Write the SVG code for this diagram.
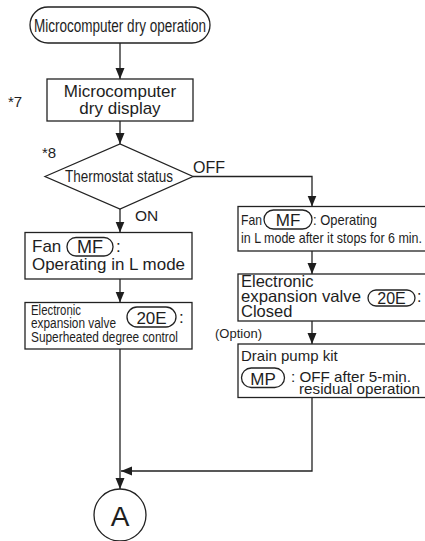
<svg xmlns="http://www.w3.org/2000/svg" width="425" height="541" viewBox="0 0 425 541">
<style>
.s{fill:#fff;stroke:#222;stroke-width:1.3}
.p{fill:none;stroke:#222;stroke-width:1.3}
.l{fill:none;stroke:#222;stroke-width:1.3}
text{font-family:"Liberation Sans",Arial,sans-serif;fill:#1e1e1e}
</style>
<defs>
<marker id="ah" markerUnits="userSpaceOnUse" markerWidth="12" markerHeight="12" viewBox="0 0 12 12" refX="11" refY="6" orient="auto">
<path d="M0,1.5 L11,6 L0,10.5 Z" fill="#1e1e1e"/>
</marker>
</defs>
<g id="connectors">
<line class="l" x1="120" y1="43" x2="120" y2="79" marker-end="url(#ah)"/>
<line class="l" x1="120" y1="121" x2="120" y2="144" marker-end="url(#ah)"/>
<line class="l" x1="120" y1="209" x2="120" y2="232.5" marker-end="url(#ah)"/>
<line class="l" x1="120" y1="279" x2="120" y2="302.5" marker-end="url(#ah)"/>
<line class="l" x1="120" y1="349" x2="120" y2="489" marker-end="url(#ah)"/>
<polyline class="l" points="193,176.5 312,176.5 312,206.5" marker-end="url(#ah)"/>
<line class="l" x1="312" y1="251" x2="312" y2="274" marker-end="url(#ah)"/>
<line class="l" x1="312" y1="321" x2="312" y2="344" marker-end="url(#ah)"/>
<polyline class="l" points="312,397.5 312,471 121,471" marker-end="url(#ah)"/>
<text x="193" y="173" font-size="16">OFF</text>
<text x="135" y="221" font-size="15.5">ON</text>
<text x="215" y="338" font-size="13">(Option)</text>
</g>
<g id="start">
<rect class="s" x="30" y="7" width="180" height="36" rx="18"/>
<text x="120" y="31.5" font-size="18" text-anchor="middle" textLength="172" lengthAdjust="spacingAndGlyphs">Microcomputer dry operation</text>
</g>
<g id="display">
<rect class="s" x="47" y="79" width="146" height="42"/>
<text x="120" y="97" font-size="17" text-anchor="middle">Microcomputer</text>
<text x="120" y="114" font-size="17" text-anchor="middle">dry display</text>
<text x="8" y="107" font-size="15">*7</text>
</g>
<g id="thermostat">
<polygon class="s" points="45,176.5 120,144 193,176.5 120,209"/>
<text x="119" y="182" font-size="16" text-anchor="middle" textLength="108" lengthAdjust="spacingAndGlyphs">Thermostat status</text>
<text x="42" y="158" font-size="15">*8</text>
</g>
<g id="fan-on">
<rect class="s" x="25" y="232.5" width="167" height="46.5"/>
<text x="32" y="252" font-size="17">Fan</text>
<rect class="p" x="67" y="237.5" width="46" height="18.5" rx="9"/>
<text x="90" y="253" font-size="18" text-anchor="middle">MF</text>
<text x="116" y="252" font-size="17">:</text>
<text x="32" y="270" font-size="17" textLength="153" lengthAdjust="spacingAndGlyphs">Operating in L mode</text>
</g>
<g id="valve-on">
<rect class="s" x="25" y="302.5" width="167" height="46.5"/>
<text x="31" y="315" font-size="14" textLength="50" lengthAdjust="spacingAndGlyphs">Electronic</text>
<text x="31" y="327.5" font-size="14" textLength="85" lengthAdjust="spacingAndGlyphs">expansion valve</text>
<text x="31" y="341.5" font-size="14" textLength="147" lengthAdjust="spacingAndGlyphs">Superheated degree control</text>
<rect class="p" x="127" y="307" width="49" height="20" rx="10"/>
<text x="151.5" y="324" font-size="17" text-anchor="middle">20E</text>
<text x="179" y="323" font-size="17">:</text>
</g>
<g id="fan-off">
<rect class="s" x="238" y="206.5" width="200" height="44.5"/>
<text x="241" y="225" font-size="14.5" textLength="21" lengthAdjust="spacingAndGlyphs">Fan</text>
<rect class="p" x="264" y="210" width="48" height="19" rx="9.5"/>
<text x="288" y="226" font-size="17" text-anchor="middle">MF</text>
<text x="313" y="225" font-size="14.5" textLength="64" lengthAdjust="spacingAndGlyphs">: Operating</text>
<text x="241" y="242.5" font-size="14.5" textLength="181" lengthAdjust="spacingAndGlyphs">in L mode after it stops for 6 min.</text>
</g>
<g id="valve-off">
<rect class="s" x="238" y="274" width="200" height="47"/>
<text x="241" y="287" font-size="16.5">Electronic</text>
<text x="241" y="302" font-size="16.5" textLength="120" lengthAdjust="spacingAndGlyphs">expansion valve</text>
<text x="241" y="317" font-size="16.5">Closed</text>
<rect class="p" x="368" y="290" width="47" height="16" rx="8"/>
<text x="391.5" y="304" font-size="16" text-anchor="middle">20E</text>
<text x="417" y="302" font-size="16">:</text>
</g>
<g id="drain">
<rect class="s" x="238" y="344" width="200" height="53.5"/>
<text x="241" y="361" font-size="15">Drain pump kit</text>
<rect class="p" x="241.5" y="368" width="43" height="19.5" rx="9.75"/>
<text x="263" y="384.5" font-size="17" text-anchor="middle">MP</text>
<text x="291" y="382" font-size="15" textLength="120" lengthAdjust="spacingAndGlyphs">: OFF after 5-min.</text>
<text x="299" y="393.5" font-size="15" textLength="121" lengthAdjust="spacingAndGlyphs">residual operation</text>
</g>
<g id="connector-A">
<circle class="s" cx="120" cy="515" r="26"/>
<text x="120" y="525.5" font-size="28" text-anchor="middle">A</text>
</g>
</svg>
